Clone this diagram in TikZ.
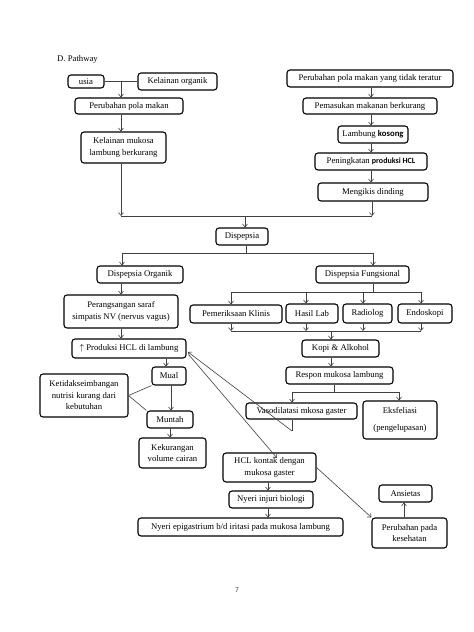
\documentclass[tikz,border=0pt]{standalone}
\usepackage{fontspec}
\setmainfont{Liberation Serif}
\newfontfamily\calib{Carlito}
\usetikzlibrary{arrows.meta}
\newcommand\mybx[6]{\node[box, minimum width={(#4-#2)*1pt}, minimum height={(#5-#3)*1pt}] (#1) at ({(#2+#4)/2},{(#3+#5)/2}) {#6};}
\begin{document}
\begin{tikzpicture}[x=1pt,y=-1pt,
  font=\fontsize{8.7}{11.5}\selectfont,
  box/.style={draw, line width=1.1pt, rounded corners=3pt, inner sep=0pt, align=center},
  ln/.style={draw=black!75, line width=0.6pt},
  arr/.style={ln, -{Straight Barb[length=3pt,width=5pt]}}]
\useasboundingbox[fill=white] (0,0) rectangle (474,632);

\node[anchor=west, inner sep=0pt] (title) at (57,59) {D. Pathway};

% left top
\mybx{usia}{68}{75}{104}{88}{usia}
\mybx{kelorg}{138}{73}{217}{90}{Kelainan organik}
\mybx{perpola}{75}{98}{183}{114}{Perubahan pola makan}
\mybx{kelmuk}{81}{132}{166}{163}{Kelainan mukosa\\lambung berkurang}

% right top
\mybx{pertidak}{287}{70}{453}{87}{Perubahan pola makan yang tidak teratur}
\mybx{pemasukan}{303}{98}{437}{114}{Pemasukan makanan berkurang}
\mybx{lambung}{338}{126}{408}{143}{Lambung {\calib\bfseries kosong}}
\mybx{peningkatan}{315}{153}{427}{170}{Peningkatan {\calib\bfseries\fontsize{8}{10}\selectfont produksi HCL}}
\mybx{mengikis}{318}{183}{428}{201}{Mengikis dinding}

\mybx{dispepsia}{216}{228}{268}{245}{Dispepsia}
\mybx{organik}{97}{266}{183}{283}{Dispepsia Organik}
\mybx{fungsional}{316}{266}{409}{283}{Dispepsia Fungsional}

% left branch
\mybx{perangsangan}{64}{295}{178}{328}{Perangsangan saraf\\simpatis NV (nervus vagus)}
\mybx{produksi}{72}{339}{186}{358}{$\uparrow$ Produksi HCL di lambung}
\mybx{mual}{152}{367}{186}{385}{Mual}
\mybx{ketidak}{40}{374}{128}{417}{Ketidakseimbangan\\nutrisi kurang dari\\kebutuhan}
\mybx{muntah}{147}{411}{193}{428}{Muntah}
\mybx{kekurangan}{139}{438}{206}{468}{Kekurangan\\volume cairan}

% right branch
\mybx{klinis}{190}{305}{282}{323}{Pemeriksaan Klinis}
\mybx{lab}{286}{304}{338}{323}{Hasil Lab}
\mybx{radiolog}{343}{304}{392}{323}{Radiolog}
\mybx{endoskopi}{398}{304}{452}{323}{Endoskopi}
\mybx{kopi}{302}{340}{379}{357}{Kopi \& Alkohol}
\mybx{respon}{286}{367}{393}{384}{Respon mukosa lambung}
\mybx{vaso}{246}{403}{357}{419}{Vasodilatasi mkosa gaster}
\mybx{eksfeliasi}{363}{401}{437}{439}{Eksfeliasi\\[5.5pt](pengelupasan)}

% bottom
\mybx{hclkontak}{223}{453}{316}{482}{HCL kontak dengan\\mukosa gaster}
\mybx{nyeriinj}{229}{491}{313}{508}{Nyeri injuri biologi}
\mybx{nyeriepi}{138}{518}{343}{536}{Nyeri epigastrium b/d iritasi pada mukosa lambung}
\mybx{ansietas}{379}{485}{432}{502}{Ansietas}
\mybx{perkes}{372}{518}{447}{548}{Perubahan pada\\kesehatan}

\node[inner sep=0pt, text=black!70] (page) at (237,590) {\calib\fontsize{7.5}{9}\selectfont 7};

% ---- connectors ----
\draw[ln] (usia) -- (kelorg);
\coordinate (j1) at (121,81.5);
\draw[arr] (j1) -- (j1 |- perpola.north);
\draw[arr] (perpola.south -| j1) -- (kelmuk.north -| j1);
\coordinate (j2) at (121,216);
\coordinate (j3) at (372,216);
\coordinate (j4) at (245,216);
\draw[arr] (kelmuk.south -| j2) -- (j2);
\draw[arr] (mengikis.south -| j3) -- (j3);
\draw[ln] (j2) -- (j3);
\draw[arr] (j4) -- (j4 |- dispepsia.north);

\coordinate (rc) at (371,0);
\draw[arr] (pertidak.south -| rc) -- (pemasukan.north -| rc);
\draw[arr] (pemasukan.south -| rc) -- (lambung.north -| rc);
\draw[arr] (lambung.south -| rc) -- (peningkatan.north -| rc);
\draw[arr] (peningkatan.south -| rc) -- (mengikis.north -| rc);

\coordinate (k1) at (246,253);
\coordinate (k2) at (122,253);
\coordinate (k3) at (373,253);
\draw[ln] (dispepsia.south -| k1) -- (k1);
\draw[ln] (k2) -- (k3);
\draw[arr] (k2) -- (k2 |- organik.north);
\draw[arr] (k3) -- (k3 |- fungsional.north);

\coordinate (lc) at (121,0);
\draw[arr] (organik.south -| lc) -- (perangsangan.north -| lc);
\draw[arr] (perangsangan.south -| lc) -- (produksi.north -| lc);
\coordinate (m1) at (166,0);
\coordinate (m2) at (171,0);
\coordinate (m3) at (170,0);
\draw[arr] (produksi.south -| m1) -- (mual.north -| m1);
\draw[arr] (mual.south -| m2) -- (muntah.north -| m2);
\draw[arr] (muntah.south -| m3) -- (kekurangan.north -| m3);
\draw[ln] (ketidak.east) -- (mual.south west);
\draw[ln] (ketidak.east) -- (muntah.north west);

\coordinate (f0) at (373,292);
\coordinate (fa) at (231,292);
\coordinate (fb) at (306,292);
\coordinate (fc) at (363,292);
\coordinate (fd) at (421,292);
\draw[ln] (fungsional.south -| f0) -- (f0);
\draw[ln] (fa) -- (fd);
\draw[arr] (fa) -- (fa |- klinis.north);
\draw[arr] (fb) -- (fb |- lab.north);
\draw[arr] (fc) -- (fc |- radiolog.north);
\draw[arr] (fd) -- (fd |- endoskopi.north);
\coordinate (ga) at (231,331);
\coordinate (gb) at (306,331);
\coordinate (gc) at (363,331);
\coordinate (gd) at (421,331);
\coordinate (g0) at (331,331);
\draw[arr] (klinis.south -| ga) -- (ga);
\draw[arr] (lab.south -| gb) -- (gb);
\draw[arr] (radiolog.south -| gc) -- (gc);
\draw[arr] (endoskopi.south -| gd) -- (gd);
\draw[ln] (ga) -- (gd);
\draw[arr] (g0) -- (g0 |- kopi.north);

\coordinate (kc) at (331,0);
\draw[arr] (kopi.south -| kc) -- (respon.north -| kc);
\coordinate (r0) at (334,392);
\coordinate (ra) at (292,392);
\coordinate (rb) at (399,392);
\draw[ln] (respon.south -| r0) -- (r0);
\draw[ln] (ra) -- (rb);
\draw[arr] (ra) -- (ra |- vaso.north);
\draw[arr] (rb) -- (rb |- eksfeliasi.north);

\coordinate (v1) at (292,431);
\coordinate (p1) at (188,352);
\coordinate (p2) at (189,355);
\coordinate (h1) at (277,458);
\draw[ln] (vaso.south -| v1) -- (v1);
\draw[arr] (v1) -- (p1);
\draw[arr] (p2) -- (h1);

\coordinate (nc) at (268,0);
\draw[arr] (hclkontak.south -| nc) -- (nyeriinj.north -| nc);
\draw[arr] (nyeriinj.south -| nc) -- (nyeriepi.north -| nc);
\draw[arr] (hclkontak.east) -- (perkes.north west);
\coordinate (ac) at (404,0);
\draw[arr] (perkes.north -| ac) -- (ansietas.south -| ac);
\end{tikzpicture}
\end{document}
